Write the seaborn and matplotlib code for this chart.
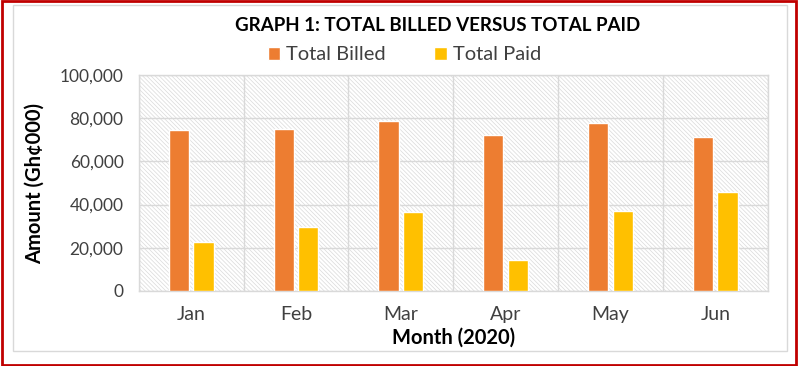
import pandas as pd
import matplotlib.pyplot as plt
import seaborn as sns
from matplotlib.patches import Rectangle
from matplotlib.ticker import FuncFormatter, FixedLocator

# data (Gh¢000)
months = ["Jan", "Feb", "Mar", "Apr", "May", "Jun"]
total_billed = [74700, 75000, 78700, 72200, 77900, 71300]
total_paid = [22800, 29800, 36600, 14400, 37000, 45800]

df = pd.DataFrame({
    "Month": months * 2,
    "Amount": total_billed + total_paid,
    "Series": ["Total Billed"] * len(months) + ["Total Paid"] * len(months),
})

sns.set_style("white")
plt.rcParams["font.family"] = ["Lato", "DejaVu Sans"]
plt.rcParams["hatch.linewidth"] = 0.5
plt.rcParams["hatch.color"] = "#dadada"

fig = plt.figure(figsize=(7.98, 3.66), dpi=100)
ax = fig.add_axes([0.174, 0.205, 0.788, 0.590])

palette = {"Total Billed": "#ED7D31", "Total Paid": "#FFC000"}
sns.barplot(data=df, x="Month", y="Amount", hue="Series", palette=palette,
            width=0.47, gap=0.18, saturation=1, ax=ax, zorder=3)

# hatched plot background
ax.add_patch(Rectangle((0, 0), 1, 1, transform=ax.transAxes, facecolor="white",
                       edgecolor="#dadada", hatch="\\" * 8, linewidth=0, zorder=0))

ax.set_ylim(0, 100000)
ax.set_xlim(-0.5, 5.5)
ax.set_yticks(range(0, 100001, 20000))
ax.yaxis.set_major_formatter(FuncFormatter(lambda v, p: f"{int(v):,}"))
ax.xaxis.set_minor_locator(FixedLocator([i - 0.5 for i in range(7)]))
ax.grid(axis="y", which="major", color="#d9d9d9", linewidth=1, zorder=1)
ax.grid(axis="x", which="minor", color="#d9d9d9", linewidth=1, zorder=1)
ax.set_axisbelow(False)
for s in ax.spines.values():
    s.set_color("#d9d9d9")
    s.set_linewidth(1)
ax.tick_params(axis="both", which="both", length=0, colors="#404040")
ax.tick_params(axis="x", pad=11, labelsize=14)
ax.tick_params(axis="y", pad=11, labelsize=12.5)

ax.set_xlabel("Month (2020)", fontsize=14.5, fontweight="bold", color="black", labelpad=3)
ax.set_ylabel("Amount (Gh¢000)", fontsize=14.5, fontweight="bold", color="black", labelpad=11)

fig.text(0.548, 0.929, "GRAPH 1: TOTAL BILLED VERSUS TOTAL PAID", ha="center", va="center",
         fontsize=13.5, fontweight="bold", color="black")
ax.legend(loc="center", bbox_to_anchor=(0.507, 0.85), bbox_transform=fig.transFigure,
          ncol=2, frameon=False, fontsize=14.5, handlelength=0.6, handleheight=0.6,
          handletextpad=0.3, columnspacing=2.4, labelcolor="#404040")

# inner grey frame and outer red border
fig.patches.append(Rectangle((0.016, 0.040), 0.970, 0.946, transform=fig.transFigure,
                             fill=False, edgecolor="#d9d9d9", linewidth=1))
fig.patches.append(Rectangle((0.002, 0.003), 0.996, 0.994, transform=fig.transFigure,
                             fill=False, edgecolor="#c00000", linewidth=2))

plt.savefig("out.png", dpi=100)
